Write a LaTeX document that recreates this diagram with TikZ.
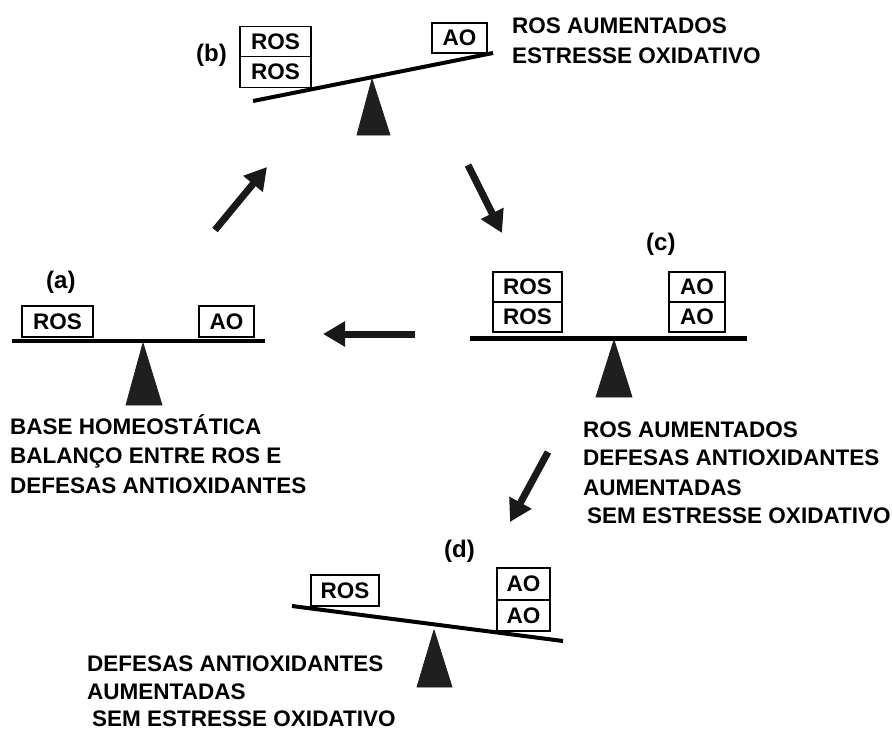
\documentclass[tikz,border=0pt]{standalone}
\usepackage{fontspec}
\setmainfont{Liberation Sans}
\usetikzlibrary{arrows.meta}
\begin{document}
\begin{tikzpicture}[x=1pt,y=-1pt,
  box/.style={draw, line width=1.3pt, inner sep=0pt, font=\fontsize{22.5}{22.5}\selectfont\bfseries},
  lbl/.style={anchor=base west, inner sep=0pt, font=\fontsize{22.5}{29}\selectfont\bfseries},
  tag/.style={anchor=base west, inner sep=0pt, font=\fontsize{24}{24}\selectfont\bfseries},
  fulcrum/.style={fill=black!88, draw=black!88, line width=0.8pt, line join=round},
  bigarrow/.style={line width=7pt, black!90, -{Triangle[length=22pt,width=24pt]}}
]
\useasboundingbox (0,0) rectangle (892,731);

% ---------- (a) ----------
\node[tag] (ta) at (46,288) {(a)};
\coordinate (aL) at (12,341);
\coordinate (aR) at (265,341);
\draw[line width=3.5pt] (aL) -- (aR);
\fill[fulcrum] (143,343) -- (126,405) -- (162,405) -- cycle;
\node[box, minimum width=71pt, minimum height=31pt] (aros) at (57.5,321.5) {ROS};
\node[box, minimum width=55pt, minimum height=31pt] (aao) at (226.5,321.5) {AO};
\node[lbl] (at1) at (10,434) {BASE HOMEOSTÁTICA};
\node[lbl] (at2) at (10,463) {BALANÇO ENTRE ROS E};
\node[lbl] (at3) at (10,493) {DEFESAS ANTIOXIDANTES};

% ---------- (b) ----------
\node[tag] (tb) at (196,61) {(b)};
\coordinate (bL) at (253,101);
\coordinate (bR) at (493,53);
\draw[line width=4pt] (bL) -- (bR);
\fill[fulcrum] (372,79) -- (357,135) -- (390,135) -- cycle;
\node[box, minimum width=71pt, minimum height=30.5pt] (bros1) at (275.5,41.5) {ROS};
\node[box, minimum width=71pt, minimum height=30.5pt] (bros2) at (275.5,72) {ROS};
\node[box, minimum width=55pt, minimum height=30pt] (bao) at (459.5,38) {AO};
\node[lbl] (bt1) at (512,33) {ROS AUMENTADOS};
\node[lbl] (bt2) at (512,63) {ESTRESSE OXIDATIVO};

% ---------- (c) ----------
\node[tag] (tc) at (646,250) {(c)};
\coordinate (cL) at (470,338);
\coordinate (cR) at (747,338);
\draw[line width=5pt] (cL) -- (cR);
\fill[fulcrum] (614,340) -- (596,397) -- (632,397) -- cycle;
\node[box, minimum width=69pt, minimum height=30pt] (cros1) at (527.5,287) {ROS};
\node[box, minimum width=69pt, minimum height=30pt] (cros2) at (527.5,317) {ROS};
\node[box, minimum width=56pt, minimum height=30pt] (cao1) at (697,287) {AO};
\node[box, minimum width=56pt, minimum height=30pt] (cao2) at (697,317) {AO};
\node[lbl] (ct1) at (583,437) {ROS AUMENTADOS};
\node[lbl] (ct2) at (583,465) {DEFESAS ANTIOXIDANTES};
\node[lbl] (ct3) at (583,495) {AUMENTADAS};
\node[lbl] (ct4) at (587,523) {SEM ESTRESSE OXIDATIVO};

% ---------- (d) ----------
\node[tag] (td) at (444,557) {(d)};
\coordinate (dL) at (292,606);
\coordinate (dR) at (563,641);
\draw[line width=4pt] (dL) -- (dR);
\fill[fulcrum] (434,630) -- (417,687) -- (452,687) -- cycle;
\node[box, minimum width=68pt, minimum height=31pt] (dros) at (345,590.5) {ROS};
\node[box, minimum width=53pt, minimum height=32pt] (dao1) at (523.5,584) {AO};
\node[box, minimum width=53pt, minimum height=31pt] (dao2) at (523.5,615.5) {AO};
\node[lbl] (dt1) at (87,671) {DEFESAS ANTIOXIDANTES};
\node[lbl] (dt2) at (87,699) {AUMENTADAS};
\node[lbl] (dt3) at (92,726) {SEM ESTRESSE OXIDATIVO};

% ---------- arrows ----------
\coordinate (r1s) at (215,230);
\coordinate (r1e) at (267,167);
\coordinate (r2s) at (468,165);
\coordinate (r2e) at (502,233);
\coordinate (r3s) at (415,334);
\coordinate (r3e) at (323,334);
\coordinate (r4s) at (548,452);
\coordinate (r4e) at (510,522);
\draw[bigarrow] (r1s) -- (r1e);
\draw[bigarrow] (r2s) -- (r2e);
\draw[bigarrow] (r3s) -- (r3e);
\draw[bigarrow] (r4s) -- (r4e);
\end{tikzpicture}
\end{document}
